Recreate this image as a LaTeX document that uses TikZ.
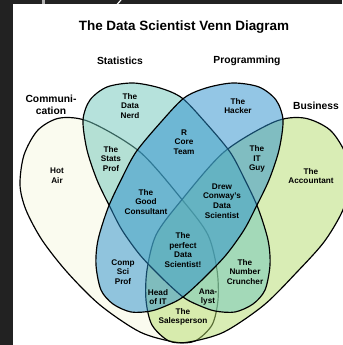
\documentclass[tikz,border=0pt]{standalone}
\usepackage{fontspec}
\setmainfont{Liberation Sans}
\usepackage{tikz}

\definecolor{commcol}{RGB}{247,249,225}
\definecolor{busicol}{RGB}{181,221,109}
\definecolor{statcol}{RGB}{111,199,187}
\definecolor{progcol}{RGB}{40,142,205}
\definecolor{pagedark}{RGB}{34,34,34}

\begin{document}
\begin{tikzpicture}[x=0.03cm,y=-0.03cm,
  blob/.style={draw=black,line width=1pt,fill opacity=0.5},
  setname/.style={font=\fontsize{8.8}{10.5}\selectfont\bfseries,align=center},
  area/.style={font=\fontsize{7}{8.3}\selectfont\bfseries,align=center}]
  \useasboundingbox (0,0) rectangle (342,345);
  \fill[pagedark] (0,0) rectangle (342,345);
  \fill[white] (13,4.5) rectangle (342,345);
  \fill[gray!60] (42,0) rectangle (45,4.5);
  \draw[white,line width=1pt] (121,0)--(117,4.5);
  % the four sets
  \draw[blob,fill=commcol] plot[smooth cycle] coordinates {(60,118) (90,122) (140,152) (184,202) (208,235) (217,270) (218,300) (212,325) (195,341) (175,342) (140,332) (100,305) (67,272) (42,240) (26,210) (20,185) (24,155) (38,130)};
  \draw[blob,fill=busicol] plot[smooth cycle] coordinates {(304,118) (330,130) (346,155) (350,185) (342,212) (324,242) (297,272) (264,305) (224,332) (189,342) (169,341) (152,325) (146,300) (147,270) (156,235) (180,202) (224,152) (274,122)};
  \draw[blob,fill=statcol] plot[smooth cycle] coordinates {(133,83) (160,88) (182,98) (205,122) (230,152) (245,180) (258,208) (268,240) (270,265) (265,290) (253,304) (235,312) (215,311) (198,305) (183,297) (162,278) (140,255) (122,230) (110,207) (97,180) (87,150) (83,120) (90,100) (107,87)};
  \begin{scope}[shift={(366,0)},xscale=-1]
    \draw[blob,fill=progcol] plot[smooth cycle] coordinates {(133,83) (160,88) (182,98) (205,122) (230,152) (245,180) (258,208) (268,240) (270,265) (265,290) (253,304) (235,312) (215,311) (198,305) (183,297) (162,278) (140,255) (122,230) (110,207) (97,180) (87,150) (83,120) (90,100) (107,87)};
  \end{scope}
  % headings
  \node[font=\fontsize{11.5}{13}\selectfont\bfseries] (title) at (184,27) {The Data Scientist Venn Diagram};
  \node[setname] (stat) at (120,61) {Statistics};
  \node[setname] (prog) at (247,61) {Programming};
  \node[setname] (comm) at (51,105) {Communi-\\cation};
  \node[setname] (busi) at (316,106) {Business};
  % regions
  \node[area] (nerd) at (130,106) {The\\Data\\Nerd};
  \node[area] (hacker) at (238,106) {The\\Hacker};
  \node[area] (rcore) at (184,142) {R\\Core\\Team};
  \node[area] (statsprof) at (111,159) {The\\Stats\\Prof};
  \node[area] (itguy) at (257,159) {The\\IT\\Guy};
  \node[area] (hotair) at (57,176) {Hot\\Air};
  \node[area] (accountant) at (311,176) {The\\Accountant};
  \node[area] (consultant) at (146,202) {The\\Good\\Consultant};
  \node[area] (conway) at (222,201) {Drew\\Conway's\\Data\\Scientist};
  \node[area] (perfect) at (183,250) {The\\perfect\\Data\\Scientist!};
  \node[area] (compsci) at (123,272) {Comp\\Sci\\Prof};
  \node[area] (cruncher) at (245,272) {The\\Number\\Cruncher};
  \node[area] (headit) at (158,297) {Head\\of IT};
  \node[area] (analyst) at (208,297) {Ana-\\lyst};
  \node[area] (sales) at (183,317) {The\\Salesperson};
\end{tikzpicture}
\end{document}
